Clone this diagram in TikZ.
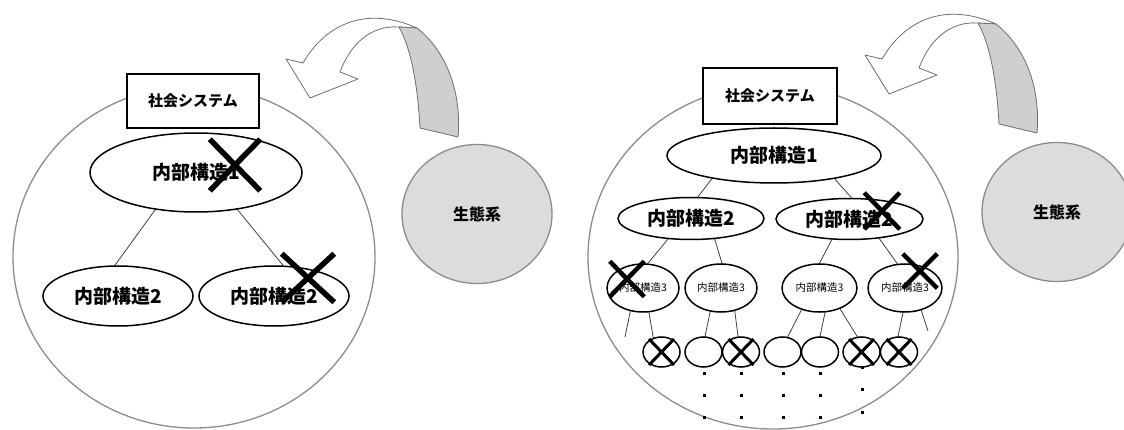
\documentclass[tikz,border=0pt]{standalone}
\usepackage{fontspec}
\setmainfont{Noto Sans CJK JP}
\usetikzlibrary{shapes.geometric,shapes.misc,backgrounds}
\definecolor{circgray}{HTML}{8C8C8C}
\definecolor{ecofill}{HTML}{DCDCDC}
\definecolor{ribfill}{HTML}{CFCFCF}
\definecolor{ribline}{HTML}{6E6E6E}
\tikzset{
  bigcirc/.style={ellipse, draw=circgray, line width=1.3pt, inner sep=0pt},
  sysbox/.style={rectangle, draw=black, line width=2.2pt, fill=white, inner sep=0pt,
    minimum width=132pt, minimum height=54pt, font=\bfseries\fontsize{15pt}{15pt}\selectfont},
  struct/.style={ellipse, draw=black, line width=1.5pt, fill=white, inner sep=0pt,
    font=\bfseries\fontsize{19pt}{19pt}\selectfont},
  struct3/.style={ellipse, draw=black, line width=1.5pt, fill=white, inner sep=0pt,
    minimum width=73pt, minimum height=48pt, font=\fontsize{10.5pt}{10.5pt}\selectfont},
  leaf/.style={ellipse, draw=black, line width=1.5pt, fill=white, inner sep=0pt,
    minimum width=37pt, minimum height=30pt},
  eco/.style={ellipse, draw=circgray, fill=ecofill, line width=1.3pt, inner sep=0pt,
    minimum width=150pt, minimum height=139pt, font=\bfseries\fontsize{16pt}{16pt}\selectfont},
  bigx/.style={cross out, draw=black, line width=5.5pt, inner sep=0pt},
  midx/.style={cross out, draw=black, line width=4.5pt, inner sep=0pt},
  smallx/.style={cross out, draw=black, line width=3pt, inner sep=0pt,
    minimum width=22pt, minimum height=23pt},
  conn/.style={draw=black!75, line width=0.8pt, shorten <=-6pt, shorten >=-6pt},
  dangle/.style={draw=black!75, line width=0.8pt, shorten <=-6pt},
  ribwhite/.style={draw=ribline, fill=white, line width=0.8pt, line join=round},
  ribgray/.style={draw=ribline, fill=ribfill, line width=0.8pt, line join=round},
  dotmark/.style={fill=black},
  ribbon/.pic={
    \path[ribwhite] (399,27) .. controls (370,25) and (350,45) .. (340,72)
      -- (358,79) -- (310,98) -- (286,59) -- (303,63)
      .. controls (325,25) and (365,5) .. (417,28) -- cycle;
    \path[ribgray] (399,27) -- (417,28) .. controls (445,50) and (462,90) .. (458,137)
      -- (420,128) .. controls (418,90) and (412,50) .. (399,27) -- cycle;
  }
}
\begin{document}
\begin{tikzpicture}[x=1pt, y=-1pt]
\useasboundingbox (0,0) rectangle (1124,430);
\clip (0,0) rectangle (1124,430);

% ---------------- left panel ----------------
\node[bigcirc, minimum width=362pt, minimum height=342pt] (Lsys) at (194,257) {};
\node[sysbox] (Lbox) at (193,101) {社会システム};
\node[struct, minimum width=212pt, minimum height=79pt] (L1) at (196,172.5) {内部構造1};
\node[struct, minimum width=150pt, minimum height=60pt] (L2a) at (118,296) {内部構造2};
\node[struct, minimum width=150pt, minimum height=60pt] (L2b) at (274,296) {内部構造2};
\node[eco] (Leco) at (477,214) {生態系};
\pic at (0,0) {ribbon};
\node[bigx, minimum width=45pt, minimum height=46pt] (Lx1) at (235,165) {};
\node[bigx, minimum width=47pt, minimum height=43pt] (Lx2) at (308,278) {};

% ---------------- right panel ----------------
\node[bigcirc, minimum width=370pt, minimum height=344pt] (Rsys) at (773,257) {};
\node[sysbox, minimum width=134pt, minimum height=56pt] (Rbox) at (770,96) {社会システム};
\node[struct, minimum width=214pt, minimum height=55pt] (R1) at (774,155.5) {内部構造1};
\node[struct, minimum width=146pt, minimum height=42pt] (R2a) at (691,218.5) {内部構造2};
\node[struct, minimum width=147pt, minimum height=41pt] (R2b) at (849.5,219) {内部構造2};
\node[struct3, minimum width=72pt] (A) at (643,288) {内部構造3};
\node[struct3, minimum width=72pt] (B) at (721,288) {内部構造3};
\node[struct3, minimum width=75pt] (C) at (819.5,288) {内部構造3};
\node[struct3, minimum width=74pt] (D) at (905,288) {内部構造3};
\node[leaf] (c1) at (661.5,352) {};
\node[leaf] (c2) at (703.5,352) {};
\node[leaf] (c3) at (741,352) {};
\node[leaf] (c4) at (782.5,352) {};
\node[leaf] (c5) at (820,352) {};
\node[leaf] (c6) at (861.5,352) {};
\node[leaf] (c7) at (899,352) {};
\coordinate (Ad) at (625,337);
\coordinate (Dd) at (928,331);
\node[eco] (Reco) at (1057,212) {生態系};
\pic at (579,-4) {ribbon};

\node[midx, minimum width=31pt, minimum height=32pt] (Rx1) at (882,211) {};
\node[midx, minimum width=30pt, minimum height=31pt] (Rx2) at (627,279) {};
\node[midx, minimum width=30pt, minimum height=30pt] (Rx3) at (920,271) {};
\node[smallx] (cx1) at (c1) {};
\node[smallx] (cx3) at (c3) {};
\node[smallx] (cx6) at (c6) {};
\node[smallx] (cx7) at (c7) {};

% dots
\foreach \dx in {704,741,783,820}{
  \foreach \dy in {373,395,417}{
    \fill[dotmark] (\dx-1.5,\dy-1.5) rectangle (\dx+1.5,\dy+1.5);
  }
}
\foreach \dy in {367,389,412}{
  \fill[dotmark] (862-1.5,\dy-1.5) rectangle (862+1.5,\dy+1.5);
}

% ---------------- connectors ----------------
\begin{pgfonlayer}{background}
\draw[conn] ([xshift=-43pt]L1.south) -- ([xshift=-3pt]L2a.north);
\draw[conn] ([xshift=44pt]L1.south) -- ([xshift=9pt]L2b.north);

\draw[conn] ([xshift=-66pt]R1.south) -- ([xshift=7pt]R2a.north);
\draw[conn] ([xshift=65pt]R1.south) -- ([xshift=2pt]R2b.north);
\draw[conn] ([xshift=-24pt]R2a.south) -- ([xshift=5pt]A.north);
\draw[conn] ([xshift=24pt]R2a.south) -- ([xshift=1pt]B.north);
\draw[conn] ([xshift=-18pt]R2b.south) -- ([xshift=0pt]C.north);
\draw[conn] ([xshift=31pt]R2b.south) -- ([xshift=-8pt]D.north);
\draw[dangle] ([xshift=-13pt]A.south) -- (Ad);
\draw[conn] ([xshift=6pt]A.south) -- ([xshift=-8.5pt]c1.north);
\draw[conn] ([xshift=-11pt]B.south) -- ([xshift=1.5pt]c2.north);
\draw[conn] ([xshift=14pt]B.south) -- ([xshift=-3pt]c3.north);
\draw[conn] ([xshift=-19.5pt]C.south) -- ([xshift=5.5pt]c4.north);
\draw[conn] ([xshift=5.5pt]C.south) -- ([xshift=0pt]c5.north);
\draw[conn] ([xshift=20.5pt,yshift=4pt]C.south) -- ([xshift=-4.5pt]c6.north);
\draw[conn] ([xshift=-2pt]D.south) -- ([xshift=-1pt]c7.north);
\draw[dangle] ([xshift=17pt]D.south) -- (Dd);
\end{pgfonlayer}
\end{tikzpicture}
\end{document}
